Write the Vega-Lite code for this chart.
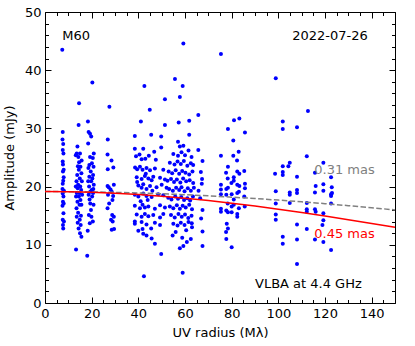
{
"$schema":"https://vega.github.io/schema/vega-lite/v6.json",
"autosize":{"type":"none"},
"padding":{"left":45,"top":12,"right":20,"bottom":43},
"width":350,"height":291,
"background":"white",
"config":{"view":{"stroke":null},
"axis":{"grid":false,"domainColor":"black","domainWidth":1,"tickColor":"black","tickWidth":1,"labelColor":"black","titleColor":"black","labelFont":"DejaVu Sans","titleFont":"DejaVu Sans","labelFontSize":13,"titleFontSize":13,"titleFontWeight":"normal","labelFlush":false,"labelOverlap":false,"labelBound":false},
"text":{"font":"DejaVu Sans","fontSize":13}},
"datasets":{
"pts":[
{"u":7.4,"amp":43.5},{"u":7.6,"amp":29.4},{"u":7.5,"amp":28.1},{"u":7.8,"amp":27.3},{"u":7.6,"amp":26.3},{"u":7.9,"amp":25.7},{"u":7.6,"amp":24.3},{"u":8.0,"amp":22.9},{"u":7.7,"amp":22.6},{"u":7.8,"amp":21.0},{"u":7.5,"amp":19.6},{"u":8.1,"amp":19.3},{"u":7.6,"amp":18.8},{"u":7.9,"amp":18.3},{"u":7.7,"amp":17.4},{"u":8.0,"amp":17.1},{"u":7.5,"amp":16.7},{"u":7.9,"amp":15.4},{"u":7.6,"amp":14.3},{"u":8.1,"amp":14.0},{"u":7.7,"amp":13.4},{"u":7.8,"amp":12.8},{"u":7.6,"amp":20.5},{"u":8.0,"amp":21.6},{"u":7.7,"amp":23.8},
{"u":14.6,"amp":34.3},{"u":14.4,"amp":30.6},{"u":13.9,"amp":26.9},{"u":13.6,"amp":25.7},{"u":15.0,"amp":25.7},{"u":14.3,"amp":25.1},{"u":13.2,"amp":25.4},{"u":14.1,"amp":23.5},{"u":15.2,"amp":23.4},{"u":14.5,"amp":22.9},{"u":15.6,"amp":22.3},{"u":13.8,"amp":22.0},{"u":14.9,"amp":21.4},{"u":13.5,"amp":20.9},{"u":15.8,"amp":20.9},{"u":14.2,"amp":20.3},{"u":13.2,"amp":20.0},{"u":15.1,"amp":20.0},{"u":14.0,"amp":19.7},{"u":15.5,"amp":19.4},{"u":13.6,"amp":18.9},{"u":14.7,"amp":18.9},{"u":15.9,"amp":18.6},{"u":13.3,"amp":18.3},{"u":14.5,"amp":18.3},{"u":15.2,"amp":17.7},{"u":13.9,"amp":17.4},{"u":14.8,"amp":16.9},{"u":15.6,"amp":16.9},{"u":13.5,"amp":16.3},{"u":14.2,"amp":15.5},{"u":15.4,"amp":15.0},{"u":13.6,"amp":14.8},{"u":14.9,"amp":14.3},{"u":14.0,"amp":13.8},{"u":15.3,"amp":13.4},{"u":14.4,"amp":12.8},{"u":15.0,"amp":12.0},{"u":15.6,"amp":11.4},{"u":13.3,"amp":9.2},{"u":14.6,"amp":24.2},{"u":15.7,"amp":24.5},
{"u":20.3,"amp":37.9},{"u":18.4,"amp":31.2},{"u":18.7,"amp":29.4},{"u":19.3,"amp":29.1},{"u":19.8,"amp":28.6},{"u":18.5,"amp":27.4},{"u":20.9,"amp":25.7},{"u":19.3,"amp":25.1},{"u":20.5,"amp":24.9},{"u":20.1,"amp":24.0},{"u":19.0,"amp":23.7},{"u":20.8,"amp":23.4},{"u":18.6,"amp":23.2},{"u":19.6,"amp":22.6},{"u":20.6,"amp":22.0},{"u":19.0,"amp":21.7},{"u":20.3,"amp":21.4},{"u":18.5,"amp":20.9},{"u":19.8,"amp":20.9},{"u":20.9,"amp":20.3},{"u":18.9,"amp":20.0},{"u":20.0,"amp":19.4},{"u":19.4,"amp":19.1},{"u":20.6,"amp":18.9},{"u":18.7,"amp":18.6},{"u":20.2,"amp":18.3},{"u":19.4,"amp":17.1},{"u":20.8,"amp":16.9},{"u":19.7,"amp":16.0},{"u":18.8,"amp":15.1},{"u":19.9,"amp":14.8},{"u":20.5,"amp":14.0},{"u":19.2,"amp":13.7},{"u":18.3,"amp":12.4},{"u":18.1,"amp":8.1},{"u":20.7,"amp":19.6},{"u":19.1,"amp":17.8},
{"u":27.6,"amp":33.7},{"u":26.9,"amp":28.1},{"u":26.8,"amp":25.5},{"u":28.5,"amp":24.5},{"u":29.3,"amp":23.3},{"u":26.9,"amp":23.0},{"u":26.8,"amp":20.1},{"u":27.3,"amp":19.9},{"u":28.1,"amp":19.5},{"u":29.5,"amp":20.3},{"u":28.6,"amp":19.1},{"u":27.0,"amp":18.6},{"u":28.9,"amp":17.7},{"u":27.5,"amp":17.1},{"u":26.8,"amp":16.3},{"u":28.8,"amp":15.1},{"u":29.5,"amp":14.8},{"u":28.3,"amp":14.3},{"u":29.0,"amp":14.0},{"u":29.6,"amp":12.7},{"u":28.6,"amp":12.6},{"u":29.2,"amp":18.4},
{"u":42.6,"amp":37.3},{"u":44.9,"amp":33.2},{"u":41.1,"amp":31.2},{"u":38.5,"amp":28.7},{"u":45.5,"amp":28.9},{"u":38.5,"amp":26.5},{"u":42.1,"amp":26.5},{"u":46.8,"amp":26.0},{"u":41.4,"amp":24.7},{"u":40.0,"amp":12.4},{"u":38.5,"amp":14.0},{"u":42.1,"amp":11.9},{"u":43.5,"amp":11.6},{"u":45.7,"amp":11.1},{"u":47.1,"amp":10.2},{"u":42.4,"amp":4.6},{"u":49.8,"amp":8.4},{"u":49.8,"amp":28.6},{"u":49.8,"amp":26.7},{"u":51.4,"amp":35.0},{"u":51.4,"amp":30.6},
{"u":38.6,"amp":23.3},{"u":39.5,"amp":23.0},{"u":40.7,"amp":23.4},{"u":41.8,"amp":22.9},{"u":43.5,"amp":23.2},{"u":45.0,"amp":22.8},{"u":47.1,"amp":23.1},{"u":50.7,"amp":22.9},
{"u":39.3,"amp":21.6},{"u":41.4,"amp":21.3},{"u":42.8,"amp":21.8},{"u":44.3,"amp":21.4},{"u":45.7,"amp":21.1},{"u":46.4,"amp":21.7},{"u":49.3,"amp":21.5},{"u":51.4,"amp":21.2},
{"u":40.0,"amp":20.2},{"u":41.4,"amp":19.8},{"u":42.1,"amp":20.4},{"u":43.5,"amp":19.6},{"u":45.0,"amp":20.1},{"u":47.8,"amp":19.9},{"u":50.0,"amp":20.3},{"u":52.1,"amp":19.8},
{"u":38.5,"amp":18.6},{"u":40.0,"amp":18.3},{"u":42.1,"amp":18.8},{"u":43.5,"amp":18.4},{"u":45.7,"amp":18.2},{"u":48.5,"amp":18.7},{"u":50.7,"amp":18.5},
{"u":38.5,"amp":16.7},{"u":40.7,"amp":16.3},{"u":41.8,"amp":16.9},{"u":42.8,"amp":16.4},{"u":44.3,"amp":16.6},{"u":47.1,"amp":16.2},{"u":49.3,"amp":16.8},{"u":51.4,"amp":16.4},
{"u":39.3,"amp":15.2},{"u":41.4,"amp":14.8},{"u":42.8,"amp":15.3},{"u":44.3,"amp":14.9},{"u":46.4,"amp":15.1},{"u":49.3,"amp":14.7},{"u":50.7,"amp":15.3},
{"u":38.5,"amp":13.6},{"u":41.4,"amp":13.9},{"u":43.5,"amp":13.5},{"u":47.1,"amp":13.8},{"u":49.3,"amp":13.4},
{"u":39.0,"amp":25.2},{"u":40.5,"amp":25.5},{"u":43.0,"amp":24.8},{"u":44.5,"amp":25.3},{"u":47.5,"amp":24.6},
{"u":41.0,"amp":17.5},{"u":44.0,"amp":17.7},{"u":46.0,"amp":19.3},{"u":39.5,"amp":20.8},{"u":43.2,"amp":22.2},{"u":45.5,"amp":12.8},{"u":41.8,"amp":12.7},
{"u":55.7,"amp":38.5},{"u":59.0,"amp":37.3},{"u":59.3,"amp":44.6},{"u":57.8,"amp":35.4},{"u":65.7,"amp":32.3},{"u":57.3,"amp":31.0},{"u":61.8,"amp":31.3},{"u":61.8,"amp":28.9},{"u":57.0,"amp":27.7},{"u":59.3,"amp":27.0},{"u":57.8,"amp":26.9},{"u":65.7,"amp":26.3},{"u":67.5,"amp":24.4},{"u":54.7,"amp":11.6},{"u":59.3,"amp":9.8},{"u":57.8,"amp":9.4},{"u":59.0,"amp":5.2},{"u":67.5,"amp":12.3},{"u":67.5,"amp":9.8},{"u":62.5,"amp":11.0},{"u":60.5,"amp":12.5},{"u":56.0,"amp":12.2},{"u":63.0,"amp":13.0},
{"u":66.8,"amp":22.5},{"u":67.2,"amp":20.5},{"u":66.5,"amp":18.0},{"u":67.5,"amp":16.0},{"u":66.9,"amp":14.5},{"u":67.3,"amp":21.3},{"u":65.8,"amp":19.3},
{"u":55.0,"amp":25.6},{"u":57.0,"amp":25.3},{"u":58.5,"amp":25.9},{"u":60.0,"amp":25.4},{"u":61.5,"amp":26.2},{"u":62.8,"amp":25.1},
{"u":53.5,"amp":24.1},{"u":55.5,"amp":23.8},{"u":56.8,"amp":24.3},{"u":58.2,"amp":23.9},{"u":59.5,"amp":24.4},{"u":61.0,"amp":23.6},{"u":62.5,"amp":24.0},{"u":63.5,"amp":23.7},
{"u":53.0,"amp":22.6},{"u":54.5,"amp":22.3},{"u":56.0,"amp":22.8},{"u":57.5,"amp":22.2},{"u":58.8,"amp":22.7},{"u":60.2,"amp":22.4},{"u":61.8,"amp":22.1},{"u":63.2,"amp":22.6},
{"u":52.5,"amp":21.0},{"u":54.0,"amp":21.3},{"u":55.3,"amp":20.8},{"u":56.5,"amp":21.2},{"u":58.0,"amp":20.7},{"u":59.2,"amp":21.4},{"u":60.5,"amp":20.9},{"u":62.0,"amp":21.1},{"u":63.5,"amp":20.6},
{"u":53.2,"amp":19.6},{"u":54.8,"amp":19.3},{"u":56.2,"amp":19.8},{"u":57.5,"amp":19.4},{"u":58.5,"amp":19.9},{"u":59.8,"amp":19.2},{"u":61.2,"amp":19.7},{"u":62.5,"amp":19.3},{"u":63.8,"amp":19.8},
{"u":52.8,"amp":18.1},{"u":54.2,"amp":17.8},{"u":55.8,"amp":18.3},{"u":57.0,"amp":17.9},{"u":58.4,"amp":18.2},{"u":59.6,"amp":17.7},{"u":61.0,"amp":18.0},{"u":62.2,"amp":17.6},{"u":63.4,"amp":18.3},
{"u":53.5,"amp":16.6},{"u":55.0,"amp":16.3},{"u":56.5,"amp":16.8},{"u":57.8,"amp":16.2},{"u":59.0,"amp":16.7},{"u":60.3,"amp":16.4},{"u":61.8,"amp":16.9},{"u":63.0,"amp":16.1},
{"u":54.0,"amp":15.1},{"u":55.6,"amp":14.7},{"u":57.2,"amp":15.3},{"u":58.6,"amp":14.8},{"u":60.0,"amp":15.2},{"u":61.4,"amp":14.6},{"u":62.8,"amp":15.0},
{"u":55.0,"amp":13.6},{"u":56.8,"amp":13.3},{"u":58.2,"amp":13.8},{"u":59.8,"amp":13.4},{"u":61.5,"amp":13.9},{"u":62.9,"amp":13.7},{"u":60.8,"amp":10.5},{"u":58.8,"amp":11.2},
{"u":75.4,"amp":42.8},{"u":81.0,"amp":31.4},{"u":83.3,"amp":31.7},{"u":78.4,"amp":29.9},{"u":85.7,"amp":29.3},{"u":80.7,"amp":27.9},{"u":83.0,"amp":26.0},{"u":75.4,"amp":25.3},{"u":80.7,"amp":25.3},{"u":82.3,"amp":24.5},{"u":78.4,"amp":23.4},{"u":85.4,"amp":22.7},{"u":82.4,"amp":22.6},{"u":83.3,"amp":22.2},{"u":77.6,"amp":22.4},{"u":78.3,"amp":21.4},{"u":80.9,"amp":21.6},{"u":80.9,"amp":21.0},{"u":79.9,"amp":20.6},{"u":82.4,"amp":20.3},{"u":83.3,"amp":20.1},{"u":85.7,"amp":20.5},{"u":85.7,"amp":19.7},{"u":75.4,"amp":20.3},{"u":75.4,"amp":19.5},{"u":78.4,"amp":19.8},{"u":77.7,"amp":19.6},{"u":83.1,"amp":19.1},{"u":82.4,"amp":18.9},{"u":80.0,"amp":18.7},{"u":75.4,"amp":18.7},{"u":77.7,"amp":18.6},{"u":85.4,"amp":18.3},{"u":80.9,"amp":17.8},{"u":78.3,"amp":17.1},{"u":80.9,"amp":16.9},{"u":80.0,"amp":16.6},{"u":85.6,"amp":16.6},{"u":83.1,"amp":16.3},{"u":75.4,"amp":16.2},{"u":75.4,"amp":15.7},{"u":77.7,"amp":15.9},{"u":78.4,"amp":15.6},{"u":80.0,"amp":15.6},{"u":82.4,"amp":15.3},{"u":82.4,"amp":14.8},{"u":77.9,"amp":13.6},{"u":78.4,"amp":12.8},{"u":77.6,"amp":12.2},{"u":77.7,"amp":11.0},{"u":80.0,"amp":9.6},
{"u":98.6,"amp":22.2},{"u":98.9,"amp":19.2},{"u":98.9,"amp":17.1},{"u":98.9,"amp":15.2},{"u":98.9,"amp":14.3},{"u":98.9,"amp":38.6},{"u":101.9,"amp":31.2},{"u":101.9,"amp":29.9},{"u":101.9,"amp":23.5},{"u":101.9,"amp":22.5},{"u":101.9,"amp":22.0},{"u":104.9,"amp":24.1},{"u":104.3,"amp":23.5},{"u":104.9,"amp":19.0},{"u":104.9,"amp":18.6},{"u":104.9,"amp":17.2},{"u":101.9,"amp":11.4},{"u":101.9,"amp":10.2},{"u":108.0,"amp":30.2},{"u":108.0,"amp":21.7},{"u":108.0,"amp":19.4},{"u":108.0,"amp":18.9},{"u":108.0,"amp":13.5},{"u":108.0,"amp":10.9},{"u":108.0,"amp":6.7},
{"u":112.7,"amp":33.0},{"u":112.2,"amp":25.2},{"u":119.3,"amp":24.1},{"u":115.7,"amp":22.4},{"u":122.6,"amp":21.6},{"u":116.0,"amp":20.1},{"u":119.3,"amp":20.4},{"u":122.9,"amp":19.9},{"u":115.7,"amp":19.0},{"u":119.3,"amp":19.3},{"u":122.6,"amp":18.7},{"u":122.6,"amp":18.4},{"u":123.0,"amp":18.9},{"u":112.2,"amp":17.2},{"u":112.2,"amp":16.1},{"u":112.2,"amp":15.7},{"u":115.7,"amp":16.1},{"u":116.0,"amp":15.7},{"u":119.3,"amp":15.4},{"u":122.6,"amp":17.1},{"u":112.2,"amp":12.7},{"u":119.3,"amp":14.2},{"u":118.9,"amp":13.4},{"u":115.7,"amp":10.9},{"u":119.3,"amp":10.5},{"u":122.6,"amp":9.1}
],
"fit031":[{"u":0,"amp":19.15},{"u":10,"amp":19.13},{"u":20,"amp":19.09},{"u":30,"amp":19.01},{"u":40,"amp":18.91},{"u":50,"amp":18.77},{"u":60,"amp":18.61},{"u":70,"amp":18.41},{"u":80,"amp":18.19},{"u":90,"amp":17.95},{"u":100,"amp":17.68},{"u":110,"amp":17.38},{"u":120,"amp":17.07},{"u":130,"amp":16.73},{"u":140,"amp":16.37},{"u":150,"amp":16.0}],
"fit045":[{"u":0,"amp":19.15},{"u":10,"amp":19.12},{"u":20,"amp":19.02},{"u":30,"amp":18.86},{"u":40,"amp":18.63},{"u":50,"amp":18.34},{"u":60,"amp":18.0},{"u":70,"amp":17.6},{"u":80,"amp":17.15},{"u":90,"amp":16.66},{"u":100,"amp":16.12},{"u":110,"amp":15.55},{"u":120,"amp":14.95},{"u":130,"amp":14.32},{"u":140,"amp":13.67},{"u":150,"amp":13.0}],
"notesL":[{"u":7.4,"amp":45.9,"t":"M60"},{"u":90.0,"amp":3.3,"t":"VLBA at 4.4 GHz"}],
"notesR":[{"u":138.3,"amp":45.9,"t":"2022-07-26"}],
"lab031":[{"u":115.4,"amp":22.85,"t":"0.31 mas"}],
"lab045":[{"u":115.4,"amp":11.8,"t":"0.45 mas"}]
},
"layer":[
{"data":{"name":"pts"},
"mark":{"type":"circle","size":16,"color":"#0000ff","opacity":1},
"encoding":{
"x":{"field":"u","type":"quantitative","scale":{"domain":[0,150],"nice":false,"zero":false},
"axis":{"orient":"bottom","values":[0,5,10,15,20,25,30,35,40,45,50,55,60,65,70,75,80,85,90,95,100,105,110,115,120,125,130,135,140,145,150],"labelExpr":"datum.value % 20 === 0 ? datum.label : ''","tickSize":{"condition":{"test":"datum.value % 20 === 0","value":-6},"value":-3.5},"labelPadding":10,"title":"UV radius (Mλ)","titlePadding":4}},
"y":{"field":"amp","type":"quantitative","scale":{"domain":[0,50],"nice":false,"zero":false},
"axis":{"orient":"left","values":[0,2,4,6,8,10,12,14,16,18,20,22,24,26,28,30,32,34,36,38,40,42,44,46,48,50],"labelExpr":"datum.value % 10 === 0 ? datum.label : ''","tickSize":{"condition":{"test":"datum.value % 10 === 0","value":-6},"value":-3.5},"labelPadding":10,"title":"Amplitude (mJy)","titlePadding":8}}}},
{"data":{"name":"fit031"},
"mark":{"type":"line","color":"#808080","strokeWidth":1.5,"strokeDash":[5.5,2.4]},
"encoding":{
"x":{"field":"u","type":"quantitative","axis":{"orient":"top","values":[0,5,10,15,20,25,30,35,40,45,50,55,60,65,70,75,80,85,90,95,100,105,110,115,120,125,130,135,140,145,150],"labels":false,"title":null,"tickSize":{"condition":{"test":"datum.value % 20 === 0","value":-6},"value":-3.5}}},
"y":{"field":"amp","type":"quantitative","axis":{"orient":"right","values":[0,2,4,6,8,10,12,14,16,18,20,22,24,26,28,30,32,34,36,38,40,42,44,46,48,50],"labels":false,"title":null,"tickSize":{"condition":{"test":"datum.value % 10 === 0","value":-6},"value":-3.5}}}}},
{"data":{"name":"fit045"},
"mark":{"type":"line","color":"#ff0000","strokeWidth":1.5},
"encoding":{"x":{"field":"u","type":"quantitative","axis":null},"y":{"field":"amp","type":"quantitative","axis":null}}},
{"data":{"name":"notesL"},
"mark":{"type":"text","align":"left","baseline":"middle","color":"black"},
"encoding":{"x":{"field":"u","type":"quantitative","axis":null},"y":{"field":"amp","type":"quantitative","axis":null},"text":{"field":"t"}}},
{"data":{"name":"notesR"},
"mark":{"type":"text","align":"right","baseline":"middle","color":"black"},
"encoding":{"x":{"field":"u","type":"quantitative","axis":null},"y":{"field":"amp","type":"quantitative","axis":null},"text":{"field":"t"}}},
{"data":{"name":"lab031"},
"mark":{"type":"text","align":"left","baseline":"middle","color":"#808080"},
"encoding":{"x":{"field":"u","type":"quantitative","axis":null},"y":{"field":"amp","type":"quantitative","axis":null},"text":{"field":"t"}}},
{"data":{"name":"lab045"},
"mark":{"type":"text","align":"left","baseline":"middle","color":"#ff0000"},
"encoding":{"x":{"field":"u","type":"quantitative","axis":null},"y":{"field":"amp","type":"quantitative","axis":null},"text":{"field":"t"}}}
],
"resolve":{"axis":{"x":"independent","y":"independent"}}
}
